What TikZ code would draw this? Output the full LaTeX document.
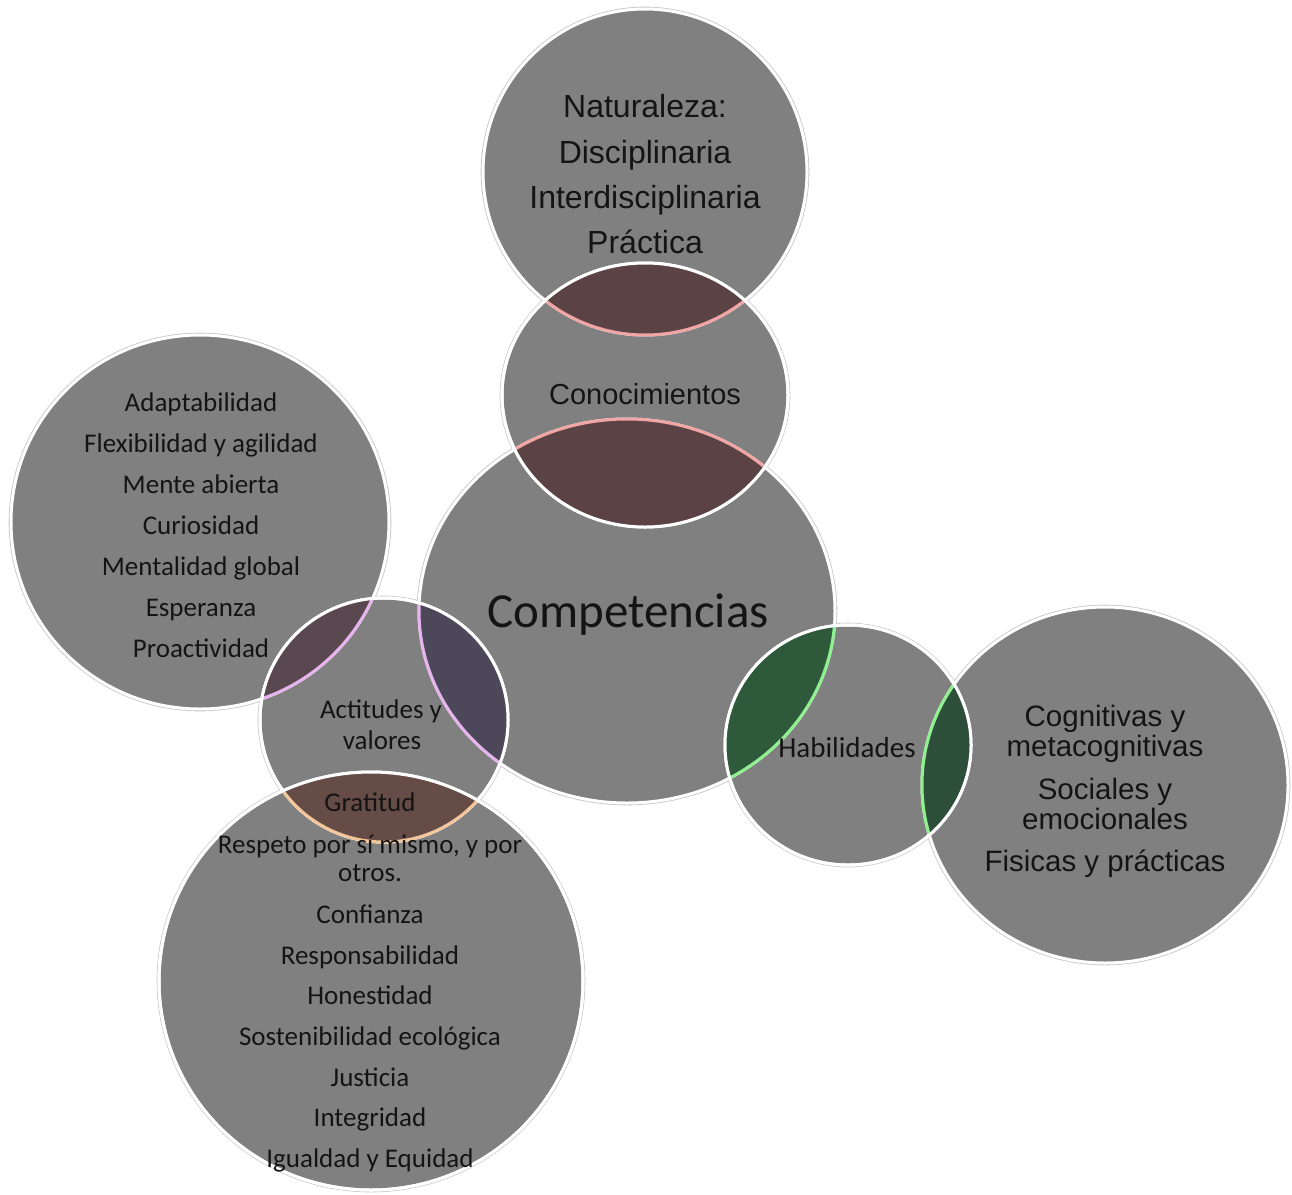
\documentclass[tikz,border=0pt]{standalone}
\usepackage{fontspec}
\setmainfont{Carlito}
\newfontfamily\arialf{Liberation Sans}
\definecolor{cgray}{HTML}{808080}
\definecolor{txt}{HTML}{141414}
\definecolor{lensred}{HTML}{5B4345}
\definecolor{lensmauve}{HTML}{5A4850}
\definecolor{lenspurple}{HTML}{4C4859}
\definecolor{lensbrown}{HTML}{654C46}
\definecolor{lensgreenA}{HTML}{2E5A3B}
\definecolor{lensgreenB}{HTML}{2D4E39}
\definecolor{arcpink}{HTML}{F2A5A5}
\definecolor{arcviolet}{HTML}{E6B4EC}
\definecolor{arcpeach}{HTML}{F2C69A}
\definecolor{arcgreen}{HTML}{90F090}
\begin{document}
\begin{tikzpicture}[x=1pt,y=-1pt,
  disc/.style={fill=cgray},
  halo/.style={draw=gray!45,line width=4.6pt},
  rim/.style={draw=white,line width=3pt},
  arcline/.style={line width=3pt},
  cal/.style={text=txt,inner sep=0pt,anchor=base,yshift=-11.8pt,
    font=\fontsize{27}{30}\selectfont},
  ari/.style={text=txt,inner sep=0pt,anchor=base,yshift=-11.2pt,
    font=\arialf\fontsize{29.5}{30}\selectfont}]
\useasboundingbox (0,0) rectangle (1292,1194);
\fill[white] (0,0) rectangle (1292,1194);
\def\Nat{(645,172) ellipse [x radius=162pt, y radius=163pt]}
\def\Con{(645,395) ellipse [x radius=143pt, y radius=132pt]}
\def\Comp{(627,611) ellipse [x radius=208pt, y radius=192pt]}
\def\Adap{(200,522) ellipse [x radius=189pt, y radius=187pt]}
\def\Act{(384,720) ellipse [x radius=124pt, y radius=122pt]}
\def\Bot{(371,981) ellipse [x radius=212pt, y radius=209pt]}
\def\Hab{(848,745) ellipse [x radius=123pt, y radius=120pt]}
\def\Cog{(1105,785) ellipse [x radius=183pt, y radius=178pt]}
% base discs
\foreach \e in {\Nat,\Comp,\Con,\Adap,\Act,\Bot,\Hab,\Cog}{\draw[halo] \e;}
\foreach \e in {\Nat,\Comp,\Con,\Adap,\Act,\Bot,\Hab,\Cog}{\fill[disc] \e;}
\foreach \e in {\Nat,\Comp,\Con,\Adap,\Act,\Bot,\Hab,\Cog}{\draw[rim] \e;}
% Conocimientos overlaps
\begin{scope}
  \clip \Con;
  \fill[lensred] \Nat; \draw[arcline,arcpink] \Nat;
  \fill[lensred] \Comp; \draw[arcline,arcpink] \Comp;
\end{scope}
\draw[rim] \Con;
% Actitudes overlaps
\begin{scope}
  \clip \Act;
  \fill[lensmauve] \Adap; \draw[arcline,arcviolet] \Adap;
  \fill[lenspurple] \Comp; \draw[arcline,arcviolet] \Comp;
\end{scope}
\draw[rim] \Act;
\begin{scope}
  \clip \Bot;
  \fill[lensbrown] \Act; \draw[arcline,arcpeach] \Act;
\end{scope}
\draw[rim] \Bot;
% Habilidades overlaps
\begin{scope}
  \clip \Hab;
  \fill[lensgreenA] \Comp; \draw[arcline,arcgreen] \Comp;
  \fill[lensgreenB] \Cog; \draw[arcline,arcgreen] \Cog;
\end{scope}
\draw[rim] \Hab;
% texts
\foreach \t/\y [count=\i] in {Naturaleza:/105,Disciplinaria/151,Interdisciplinaria/196,Práctica/241}
  \node[ari,yshift=-1pt,font=\arialf\fontsize{32}{34}\selectfont] (n\i) at (645,\y) {\t};
\node[ari,font=\arialf\fontsize{29}{30}\selectfont] (con) at (645,393) {Conocimientos};
\node[cal,yshift=-4.5pt,font=\fontsize{49}{50}\selectfont] (comp) at (628,611) {Competencias};
\foreach \t/\y [count=\i] in {Adaptabilidad/400,Flexibilidad y agilidad/441,Mente abierta/482,Curiosidad/523,Mentalidad global/564,Esperanza/605,Proactividad/646}
  \node[cal] (a\i) at (201,\y) {\t};
\node[cal] (act1) at (381,707) {Actitudes y};
\node[cal] (act2) at (382,738) {valores};
\foreach \t/\y [count=\i] in {Gratitud/800,{Respeto por sí mismo, y por}/842,otros./870,Confianza/912,Responsabilidad/953,Honestidad/993,Sostenibilidad ecológica/1034,Justicia/1075,Integridad/1115,Igualdad y Equidad/1156}
  \node[cal] (b\i) at (370,\y) {\t};
\node[cal,yshift=-0.5pt,font=\fontsize{29}{30}\selectfont] (hab) at (847,745) {Habilidades};
\foreach \t/\y [count=\i] in {Cognitivas y/715,metacognitivas/745,Sociales y/788,emocionales/818,Fisicas y prácticas/860}
  \node[ari] (c\i) at (1105,\y) {\t};
\end{tikzpicture}
\end{document}
